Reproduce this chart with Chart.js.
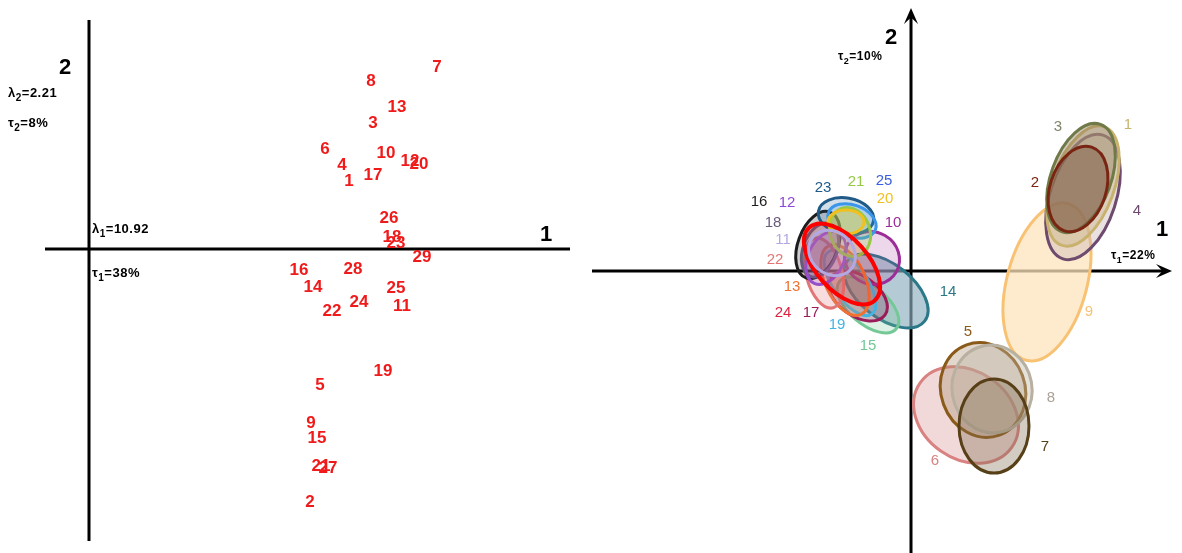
<!DOCTYPE html>
<html>
<head>
<meta charset="utf-8">
<script src="https://cdn.jsdelivr.net/npm/chart.js@4.4.1/dist/chart.umd.min.js"></script>
<style>
  html, body { margin: 0; padding: 0; background: #fff; }
  #wrap { position: relative; width: 1182px; height: 553px; }
  #left { position: absolute; left: 0; top: 0; }
  #right { position: absolute; left: 590px; top: 0; }
</style>
</head>
<body>
<div id="wrap">
  <canvas id="left" width="590" height="553"></canvas>
  <canvas id="right" width="592" height="553"></canvas>
</div>
<script>
// ---- left map: individuals on axes 1 and 2
const pointNames = ['7','8','13','3','6','10','12','20','4','17','1','26','18','23','29',
  '16','28','14','25','24','22','11','19','5','9','15','21','27','2'];
const pointX = [6.96, 5.64, 6.16, 5.68, 4.72, 5.94, 6.42, 6.60, 5.06, 5.68, 5.20, 6.00, 6.06, 6.14, 6.66,
  4.20, 5.28, 4.48, 6.14, 5.40, 4.86, 6.26, 5.88, 4.62, 4.44, 4.56, 4.64, 4.78, 4.42];
const pointY = [3.64, 3.36, 2.84, 2.52, 2.00, 1.92, 1.76, 1.70, 1.68, 1.48, 1.36, 0.62, 0.24, 0.12, -0.16,
  -0.42, -0.40, -0.76, -0.78, -1.06, -1.24, -1.14, -2.44, -2.72, -3.48, -3.78, -4.34, -4.38, -5.06];

// ---- right map: confidence ellipses (drawing order)
const groupNames = ['14','15','17','10','19','13','22','16','18','12','23','25','21','20','24','11',
  '9','4','1','3','2','6','5','8','7'];
const groupX  = [-0.50, -0.86, -1.06, -0.78, -1.22, -1.32, -1.74, -1.86, -1.82, -1.70, -1.30, -1.18, -1.22, -1.30, -1.38, -1.58,
  2.72, 3.44, 3.44, 3.40, 3.34, 1.10, 1.44, 1.62, 1.66];
const groupY  = [-0.40, -0.68, -0.50, 0.26, -0.24, -0.18, -0.04, 0.52, 0.42, 0.26, 1.10, 1.00, 0.78, 0.98, 0.14, 0.36,
  -0.22, 1.48, 1.70, 1.86, 1.64, -2.88, -2.38, -2.36, -3.10];
const groupRx = [0.98, 0.74, 0.66, 0.56, 0.76, 0.40, 0.36, 0.40, 0.34, 0.36, 0.56, 0.50, 0.40, 0.36, 0.98, 0.50,
  0.80, 0.66, 0.62, 0.60, 0.56, 1.12, 0.84, 0.80, 0.70];
const groupRy = [0.54, 0.38, 0.40, 0.52, 0.34, 0.76, 0.72, 0.70, 0.56, 0.56, 0.36, 0.32, 0.50, 0.24, 0.52, 0.42,
  1.62, 1.30, 1.26, 1.14, 0.88, 0.88, 0.96, 0.88, 0.94];
const groupAngle = [38, 40, 35, 30, 55, -25, -15, 20, 20, 25, 10, 20, -20, 0, 48, 40,
  15, 18, 20, 20, 18, 35, -20, -10, 0];

// label positions of the ellipses
const tagNames = ['16','12','23','21','25','20','10','18','11','22','13','24','17','19','15','14',
  '3','1','2','4','9','5','8','7','6'];
const tagX = [-3.04, -2.48, -1.76, -1.10, -0.54, -0.52, -0.36, -2.76, -2.56, -2.72, -2.38, -2.56, -2.00, -1.48, -0.86, 0.74,
  2.94, 4.34, 2.48, 4.52, 3.56, 1.14, 2.80, 2.68, 0.48];
const tagY = [1.38, 1.36, 1.66, 1.78, 1.80, 1.44, 0.96, 0.96, 0.62, 0.22, -0.32, -0.84, -0.84, -1.08, -1.50, -0.42,
  2.88, 2.92, 1.76, 1.20, -0.82, -1.22, -2.54, -3.52, -3.80];

const strokeColors = {
  '1':'#c9b26e','2':'#7a2412','3':'#6f7a48','4':'#6e4a6e','5':'#8a5a18','6':'#d98282','7':'#574018',
  '8':'#b8b0a0','9':'#f8c274','10':'#9c2c98','11':'#b2a8e2','12':'#9650cc','13':'#f07232','14':'#2a7888',
  '15':'#74c896','16':'#1c1c1c','17':'#9a1c5a','18':'#6a5a7a','19':'#44b4e2','20':'#f0c020','21':'#98c848',
  '22':'#e27676','23':'#1f5a88','24':'#ff0000','25':'#3a96e8'
};
const tagColors = Object.assign({}, strokeColors, {'3':'#7f8466','8':'#aaa296','24':'#e02040','25':'#3a5ee0','12':'#9048d8'});
const fillColors = {
  '1':'rgba(205,185,140,0.45)','2':'rgba(120,80,60,0.45)','3':'rgba(140,120,90,0.4)','4':'rgba(200,180,180,0.4)',
  '5':'rgba(170,140,110,0.35)','6':'rgba(225,170,170,0.45)','7':'rgba(130,110,80,0.35)','8':'rgba(190,180,165,0.4)',
  '9':'rgba(253,228,190,0.75)','10':'rgba(160,60,150,0.2)','11':'rgba(170,160,220,0.2)','12':'rgba(150,80,200,0.2)',
  '13':'rgba(240,120,60,0.2)','14':'rgba(140,175,190,0.65)','15':'rgba(120,200,150,0.25)','16':'rgba(60,60,60,0.25)',
  '17':'rgba(150,30,90,0.25)','18':'rgba(100,90,120,0.2)','19':'rgba(70,180,225,0.2)','20':'rgba(240,200,50,0.3)',
  '21':'rgba(150,200,70,0.25)','22':'rgba(225,120,120,0.25)','23':'rgba(30,90,140,0.2)','24':'rgba(255,0,0,0.12)',
  '25':'rgba(60,150,230,0.2)'
};

// text with a subscript, e.g. λ₂=2.21
function subText(ctx, x, y, main, sub, rest, size) {
  ctx.letterSpacing = '0.5px';
  ctx.font = 'bold ' + size + 'px "Liberation Sans", Arial, sans-serif';
  ctx.textAlign = 'left';
  ctx.textBaseline = 'alphabetic';
  ctx.fillText(main, x, y);
  let w = ctx.measureText(main).width;
  ctx.font = 'bold ' + Math.round(size * 0.75) + 'px "Liberation Sans", Arial, sans-serif';
  ctx.fillText(sub, x + w, y + 4);
  w += ctx.measureText(sub).width;
  ctx.font = 'bold ' + size + 'px "Liberation Sans", Arial, sans-serif';
  ctx.fillText(rest, x + w, y);
  ctx.letterSpacing = '0px';
}

function bigText(ctx, t, x, y) {
  ctx.font = 'bold 22px "Liberation Sans", Arial, sans-serif';
  ctx.textAlign = 'center';
  ctx.textBaseline = 'middle';
  ctx.fillText(t, x, y);
}

const leftAxes = {
  id: 'leftAxes',
  beforeDatasetsDraw(chart) {
    const ctx = chart.ctx, xs = chart.scales.x, ys = chart.scales.y;
    const x0 = xs.getPixelForValue(0), y0 = ys.getPixelForValue(0);
    ctx.save();
    ctx.strokeStyle = '#000';
    ctx.lineWidth = 3;
    ctx.beginPath();
    ctx.moveTo(xs.getPixelForValue(-0.88), y0);
    ctx.lineTo(xs.getPixelForValue(9.62), y0);
    ctx.moveTo(x0, ys.getPixelForValue(4.58));
    ctx.lineTo(x0, ys.getPixelForValue(-5.84));
    ctx.stroke();
    ctx.fillStyle = '#000';
    bigText(ctx, '2', x0 - 24, 68);
    bigText(ctx, '1', xs.getPixelForValue(9.14), y0 - 14);
    subText(ctx, 8, 97, 'λ', '2', '=2.21', 13);
    subText(ctx, 8, 127, 'τ', '2', '=8%', 13);
    subText(ctx, x0 + 3, y0 - 16, 'λ', '1', '=10.92', 13);
    subText(ctx, x0 + 3, y0 + 28, 'τ', '1', '=38%', 13);
    ctx.restore();
  },
  afterDatasetsDraw(chart) {
    const ctx = chart.ctx;
    ctx.save();
    ctx.fillStyle = '#f01a1a';
    ctx.font = 'bold 17px "Liberation Sans", Arial, sans-serif';
    ctx.textAlign = 'center';
    ctx.textBaseline = 'middle';
    chart.getDatasetMeta(0).data.forEach((pt, i) => {
      ctx.fillText(pointNames[i], pt.x, pt.y);
    });
    ctx.restore();
  }
};

function arrowHead(ctx, x, y, dx, dy) {
  const len = 16, half = 7;
  ctx.beginPath();
  ctx.moveTo(x, y);
  ctx.lineTo(x - dx * len - dy * half, y - dy * len + dx * half);
  ctx.lineTo(x - dx * len * 0.6, y - dy * len * 0.6);
  ctx.lineTo(x - dx * len + dy * half, y - dy * len - dx * half);
  ctx.closePath();
  ctx.fill();
}

const rightAxes = {
  id: 'rightAxes',
  beforeDatasetsDraw(chart) {
    const ctx = chart.ctx, xs = chart.scales.x, ys = chart.scales.y;
    const x0 = xs.getPixelForValue(0), y0 = ys.getPixelForValue(0);
    const xEnd = xs.getPixelForValue(5.22), yEnd = ys.getPixelForValue(5.26);
    ctx.save();
    ctx.strokeStyle = '#000';
    ctx.fillStyle = '#000';
    ctx.lineWidth = 3;
    ctx.beginPath();
    ctx.moveTo(2, y0);
    ctx.lineTo(xEnd - 6, y0);
    ctx.moveTo(x0, chart.height);
    ctx.lineTo(x0, yEnd + 6);
    ctx.stroke();
    arrowHead(ctx, xEnd, y0, 1, 0);
    arrowHead(ctx, x0, yEnd, 0, -1);
    bigText(ctx, '2', x0 - 20, 38);
    bigText(ctx, '1', xs.getPixelForValue(5.02), y0 - 41);
    subText(ctx, x0 - 73, 60, 'τ', '2', '=10%', 12);
    subText(ctx, xs.getPixelForValue(4.0), y0 - 12, 'τ', '1', '=22%', 12);
    ctx.restore();
  },
  afterDatasetsDraw(chart) {
    const ctx = chart.ctx, xs = chart.scales.x, ys = chart.scales.y;
    ctx.save();
    chart.getDatasetMeta(0).data.forEach((pt, i) => {
      const name = groupNames[i];
      const rx = Math.abs(xs.getPixelForValue(groupX[i] + groupRx[i]) - pt.x);
      const ry = Math.abs(ys.getPixelForValue(groupY[i] + groupRy[i]) - pt.y);
      ctx.beginPath();
      ctx.ellipse(pt.x, pt.y, rx, ry, groupAngle[i] * Math.PI / 180, 0, Math.PI * 2);
      ctx.fillStyle = fillColors[name];
      ctx.fill();
      ctx.lineWidth = name === '24' ? 4 : 3;
      ctx.strokeStyle = strokeColors[name];
      ctx.stroke();
    });
    ctx.font = '15px "Liberation Sans", Arial, sans-serif';
    ctx.textAlign = 'center';
    ctx.textBaseline = 'middle';
    chart.getDatasetMeta(1).data.forEach((pt, i) => {
      ctx.fillStyle = tagColors[tagNames[i]];
      ctx.fillText(tagNames[i], pt.x, pt.y);
    });
    ctx.restore();
  }
};

const hiddenScales = (xmin, xmax, ymin, ymax) => ({
  x: { type: 'linear', display: false, min: xmin, max: xmax },
  y: { type: 'linear', display: false, min: ymin, max: ymax }
});

const baseOptions = {
  responsive: false,
  animation: false,
  events: [],
  layout: { padding: 0 },
  plugins: { legend: { display: false }, tooltip: { enabled: false } }
};

new Chart(document.getElementById('left'), {
  type: 'scatter',
  data: {
    datasets: [{
      data: pointX.map((x, i) => ({ x: x, y: pointY[i] })),
      pointRadius: 0
    }]
  },
  options: Object.assign({}, baseOptions, { scales: hiddenScales(-1.78, 10.02, -6.08, 4.98) }),
  plugins: [leftAxes]
});

new Chart(document.getElementById('right'), {
  type: 'scatter',
  data: {
    datasets: [{
      data: groupX.map((x, i) => ({ x: x, y: groupY[i] })),
      pointRadius: 0
    }, {
      data: tagX.map((x, i) => ({ x: x, y: tagY[i] })),
      pointRadius: 0
    }]
  },
  options: Object.assign({}, baseOptions, { scales: hiddenScales(-6.42, 5.42, -5.64, 5.42) }),
  plugins: [rightAxes]
});
</script>
</body>
</html>
